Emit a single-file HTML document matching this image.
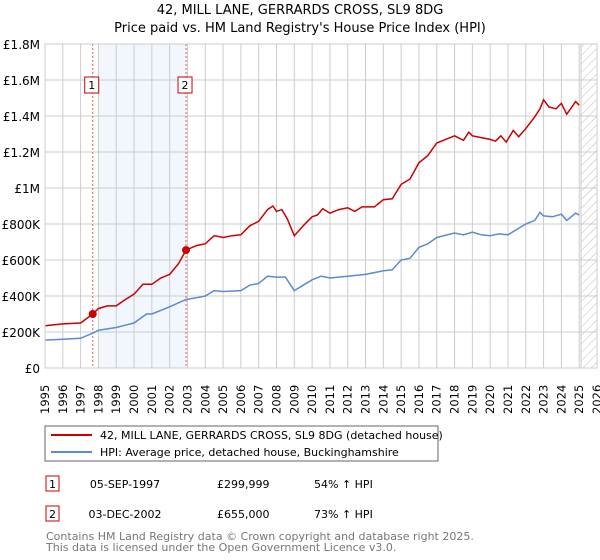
<!DOCTYPE html>
<html><head><meta charset="utf-8"><style>
body{margin:0;background:#fff;font-family:"DejaVu Sans","Liberation Sans",sans-serif;}
svg{display:block}
</style></head><body>
<svg id="c" width="600" height="560" viewBox="0 0 600 560" font-family="DejaVu Sans, Liberation Sans, sans-serif">
<text x="300" y="14" text-anchor="middle" font-size="13">42, MILL LANE, GERRARDS CROSS, SL9 8DG</text>
<text x="300" y="32" text-anchor="middle" font-size="13">Price paid vs. HM Land Registry's House Price Index (HPI)</text>
<defs><pattern id="h" width="6" height="6" patternUnits="userSpaceOnUse" patternTransform="rotate(45)"><line x1="0" y1="0" x2="0" y2="6" stroke="#bbb" stroke-width="1"/></pattern></defs>
<g id="grid"></g><g id="marks"></g><g id="axes"></g>
<rect x="45" y="426" width="393" height="35" fill="#fff" stroke="#666"/>
<line x1="51" y1="435" x2="92" y2="435" stroke="#cc0000" stroke-width="2"/>
<text x="100" y="439" font-size="11">42, MILL LANE, GERRARDS CROSS, SL9 8DG (detached house)</text>
<line x1="51" y1="452" x2="92" y2="452" stroke="#5b8bd0" stroke-width="2"/>
<text x="100" y="456" font-size="11">HPI: Average price, detached house, Buckinghamshire</text>
<g font-size="11">
<rect x="46" y="476" width="13" height="15" fill="#fff" stroke="#cc0000"/><text x="52.5" y="488" text-anchor="middle">1</text>
<text x="125" y="488" text-anchor="middle">05-SEP-1997</text><text x="217" y="488">£299,999</text><text x="314" y="488">54% ↑ HPI</text>
<rect x="46" y="506" width="13" height="15" fill="#fff" stroke="#cc0000"/><text x="52.5" y="518" text-anchor="middle">2</text>
<text x="125" y="518" text-anchor="middle">03-DEC-2002</text><text x="217" y="518">£655,000</text><text x="314" y="518">73% ↑ HPI</text>
</g>
<text x="46" y="540" font-size="11" fill="#777">Contains HM Land Registry data © Crown copyright and database right 2025.</text>
<text x="46" y="551" font-size="11" fill="#777">This data is licensed under the Open Government Licence v3.0.</text>
</svg>
<script>
const yTicks=[0,200000,400000,600000,800000,1000000,1200000,1400000,1600000,1800000];
const yTickLabels=["£0","£200K","£400K","£600K","£800K","£1M","£1.2M","£1.4M","£1.6M","£1.8M"];
const years=[1995,1996,1997,1998,1999,2000,2001,2002,2003,2004,2005,2006,2007,2008,2009,2010,2011,2012,2013,2014,2015,2016,2017,2018,2019,2020,2021,2022,2023,2024,2025,2026];
const hpiT=[1995,1996,1997,1997.7,1998,1999,2000,2000.7,2001,2002,2002.9,2003.5,2004,2004.5,2005,2006,2006.5,2007,2007.5,2008,2008.5,2009,2009.5,2010,2010.5,2011,2012,2013,2014,2014.5,2015,2015.5,2016,2016.5,2017,2018,2018.5,2019,2019.5,2020,2020.5,2021,2021.5,2022,2022.5,2022.8,2023,2023.5,2024,2024.3,2024.8,2025];
const hpiV=[155,160,165,195,210,225,250,300,300,340,380,390,400,430,425,430,460,470,510,505,505,430,460,490,510,500,510,520,540,545,600,610,670,690,725,750,740,755,740,735,745,740,770,800,820,865,845,840,855,820,860,850];
const ppT=[1995,1996,1997,1997.68,1998,1998.5,1999,1999.5,2000,2000.5,2001,2001.5,2002,2002.5,2002.92,2003.5,2004,2004.5,2005,2005.5,2006,2006.5,2007,2007.5,2007.8,2008,2008.3,2008.6,2009,2009.5,2010,2010.3,2010.6,2011,2011.5,2012,2012.4,2012.8,2013.5,2014,2014.5,2015,2015.5,2016,2016.5,2017,2017.5,2018,2018.5,2018.8,2019,2019.5,2020,2020.3,2020.6,2020.9,2021.3,2021.6,2022,2022.5,2022.8,2023,2023.3,2023.7,2024,2024.3,2024.8,2025];
const ppV=[235,245,250,300,330,345,345,380,410,465,465,500,520,580,655,680,690,735,725,735,740,790,815,880,900,870,880,830,735,790,840,850,885,860,880,890,870,895,895,935,940,1020,1050,1140,1180,1250,1270,1290,1265,1310,1290,1280,1270,1260,1290,1255,1320,1285,1330,1395,1440,1490,1450,1440,1470,1410,1480,1460];
const saleT=[1997.68,2002.92];
const saleV=[299999,655000];
const X0=45,X1=597,Y0=368,Y1=44;
const x=t=>X0+(t-1995)/(2026-1995)*(X1-X0);
const y=v=>Y0-v/1800000*(Y0-Y1);
const NS="http://www.w3.org/2000/svg";
function mk(tag,at,parent){const e=document.createElementNS(NS,tag);for(const k in at)e.setAttribute(k,at[k]);parent.appendChild(e);return e;}
const grid=document.getElementById('grid'),marks=document.getElementById('marks'),axes=document.getElementById('axes');
let r=mk('rect',{x:x(1998),y:Y1,width:x(2002.92)-x(1998),height:Y0-Y1,fill:'#f2f6fd'},grid);


years.forEach(t=>{mk('line',{x1:x(t),x2:x(t),y1:Y1,y2:Y0,stroke:'#ccc'},grid);
 const tx=mk('text',{transform:`translate(${x(t)+4},414) rotate(-90)`,'font-size':11.5},axes);tx.textContent=t;
 
 });
yTicks.forEach((v,i)=>{mk('line',{x1:X0,x2:X1,y1:y(v),y2:y(v),stroke:'#ccc'},grid);
 const tx=mk('text',{x:40,y:y(v)+5,'text-anchor':'end','font-size':12},axes);tx.textContent=yTickLabels[i];
 
 });
let hr=mk('rect',{x:x(2025.1),y:Y1,width:X1-x(2025.1),height:Y0-Y1,fill:'url(#h)',stroke:'#ccc'},grid);


saleT.forEach(t=>mk('line',{x1:x(t),x2:x(t),y1:Y1,y2:Y0,stroke:'#e55','stroke-dasharray':'2,2'},grid));
const hp=mk('polyline',{points:hpiT.map((t,i)=>x(t)+','+y(hpiV[i]*1000)).join(' '),fill:'none',stroke:'#5b8bd0','stroke-width':1.5},marks);


const pp=mk('polyline',{points:ppT.map((t,i)=>x(t)+','+y(ppV[i]*1000)).join(' '),fill:'none',stroke:'#cc0000','stroke-width':1.5},marks);


saleT.forEach((t,i)=>{const c=mk('circle',{cx:x(t),cy:y(saleV[i]),r:4,fill:'#cc0000'},marks);
 
 
 const bx=x(t)-7;const b=mk('rect',{x:bx-1,y:77,width:14,height:16,fill:'#fff',stroke:'#cc0000'},marks);
 
 
 const tt=mk('text',{x:bx+6,y:89,'text-anchor':'middle','font-size':11},marks);tt.textContent=i+1;});
mk('rect',{x:X0,y:Y1,width:X1-X0,height:Y0-Y1,fill:'none',stroke:'#ccc'},axes);
</script>
</body></html>
